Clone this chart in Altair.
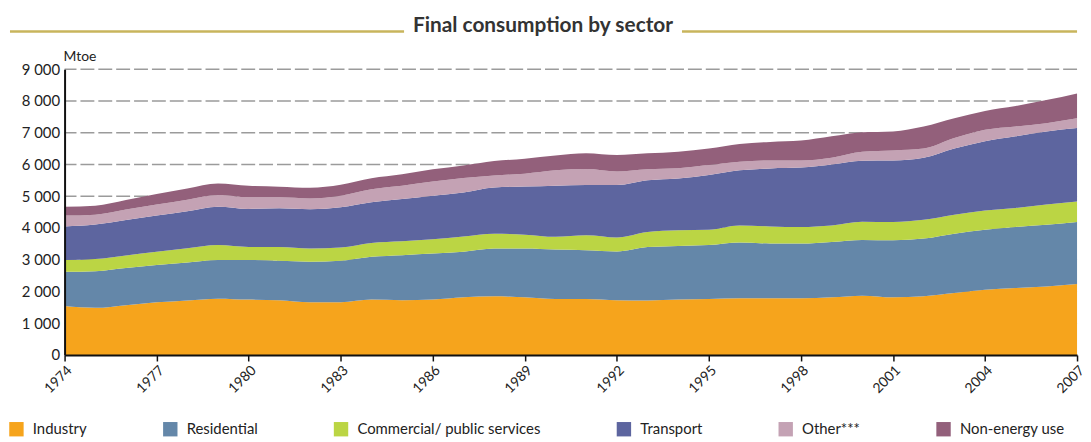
import altair as alt
import pandas as pd

years = list(range(1974, 2008))
sectors = ["Industry", "Residential", "Commercial/ public services",
           "Transport", "Other***", "Non-energy use"]
colors = ["#F6A41C", "#6487A9", "#BBD544", "#5D659F", "#C4A2B4", "#93607B"]

industry = [1540, 1485, 1570, 1660, 1720, 1775, 1745, 1725, 1660, 1660,
            1745, 1725, 1745, 1815, 1850, 1815, 1765, 1765, 1725, 1715,
            1745, 1765, 1785, 1785, 1785, 1815, 1870, 1815, 1850, 1950,
            2055, 2110, 2160, 2235]
residential = [1080, 1155, 1170, 1175, 1195, 1215, 1245, 1245, 1280, 1310,
               1350, 1420, 1450, 1435, 1500, 1535, 1555, 1535, 1535, 1685,
               1690, 1695, 1755, 1725, 1725, 1745, 1755, 1800, 1815, 1870,
               1890, 1920, 1940, 1950]
commercial = [370, 380, 395, 415, 445, 470, 410, 430, 410, 415,
              435, 435, 450, 485, 470, 440, 400, 470, 440, 475,
              490, 485, 540, 540, 520, 520, 570, 570, 590, 600,
              605, 600, 635, 645]
transport = [1060, 1090, 1115, 1140, 1170, 1210, 1200, 1220, 1240, 1265,
             1280, 1330, 1370, 1385, 1455, 1515, 1610, 1580, 1650, 1625,
             1635, 1725, 1735, 1825, 1870, 1920, 1925, 1940, 1955, 2080,
             2180, 2255, 2305, 2315]
other = [340, 310, 330, 345, 360, 365, 365, 345, 340, 365,
         410, 420, 445, 450, 380, 405, 485, 505, 430, 350,
         320, 310, 270, 250, 225, 210, 280, 315, 290, 330,
         360, 310, 260, 310]
nonenergy = [280, 280, 300, 335, 355, 365, 365, 335, 335, 345,
             345, 360, 385, 395, 450, 470, 465, 500, 520, 500,
             520, 520, 560, 585, 625, 675, 615, 600, 695, 625,
             595, 645, 725, 780]

y_ticks = [0, 1000, 2000, 3000, 4000, 5000, 6000, 7000, 8000, 9000]
x_ticks = list(range(1974, 2008, 3))
grid_values = y_ticks[1:]

series = [industry, residential, commercial, transport, other, nonenergy]
rows = []
for idx, (name, vals) in enumerate(zip(sectors, series)):
    for yr, v in zip(years, vals):
        rows.append({"year": yr, "sector": name, "value": v, "idx": idx})
df = pd.DataFrame(rows)

FONT = "Lato, Open Sans, sans-serif"

x_scale = alt.Scale(domain=[1974, 2007], nice=False, zero=False)
y_scale = alt.Scale(domain=[0, 9000], nice=False)

y_axis = alt.Axis(values=y_ticks,
                  labelExpr="replace(format(datum.value, ','), ',', ' ')",
                  labelFontSize=15, labelFont=FONT, labelColor="#222",
                  ticks=False, labelPadding=5,
                  domainColor="#111", domainWidth=2,
                  grid=False, zindex=1)

grid = alt.Chart(pd.DataFrame({"v": grid_values})).mark_rule(
    color="#9b9b9b", strokeWidth=1.5, strokeDash=[14, 4]
).encode(y=alt.Y("v:Q", scale=y_scale, axis=y_axis, title=None))

area = alt.Chart(df).mark_area(interpolate="monotone").encode(
    x=alt.X("year:Q", scale=x_scale, title=None,
            axis=alt.Axis(values=x_ticks, format="d", labelAngle=-45,
                          labelAlign="right", labelBaseline="top",
                          labelFontSize=14, labelFont=FONT, labelColor="#222",
                          tickSize=6, tickColor="#111", tickWidth=1.5,
                          domainColor="#111", domainWidth=2,
                          labelPadding=2, grid=False, zindex=1)),
    y=alt.Y("value:Q", stack="zero", scale=y_scale, title=None, axis=y_axis),
    color=alt.Color("sector:N", scale=alt.Scale(domain=sectors, range=colors),
                    legend=alt.Legend(orient="none", legendX=-56, legendY=355,
                                      direction="horizontal", title=None,
                                      symbolType="square", symbolSize=210,
                                      symbolStrokeWidth=0, symbolOpacity=1,
                                      labelFontSize=15, labelFont=FONT,
                                      labelColor="#222", labelOffset=9,
                                      columnPadding=76, labelLimit=400)),
    order=alt.Order("idx:Q", sort="ascending"),
)

mtoe = alt.Chart(pd.DataFrame({"t": ["Mtoe"]})).mark_text(
    align="left", baseline="alphabetic", fontSize=14, font=FONT, color="#222"
).encode(text="t:N", x=alt.value(-1), y=alt.value(-8))

title = alt.Chart(pd.DataFrame({"t": ["Final consumption by sector"]})).mark_text(
    align="center", baseline="alphabetic", fontSize=21, font=FONT,
    fontWeight="bold", color="#333"
).encode(text="t:N", x=alt.value(482), y=alt.value(-37))

line_left = alt.Chart(pd.DataFrame({"a": [0]})).mark_rule(
    color="#C8B55C", strokeWidth=2.5
).encode(x=alt.value(-55), x2=alt.value(342), y=alt.value(-38))

line_right = alt.Chart(pd.DataFrame({"a": [0]})).mark_rule(
    color="#C8B55C", strokeWidth=2.5
).encode(x=alt.value(622), x2=alt.value(1020), y=alt.value(-38))

chart = alt.layer(grid, area, mtoe, title, line_left, line_right).properties(
    width=1020, height=288,
    autosize=alt.AutoSizeParams(type="none"),
    padding={"left": 57, "top": 60, "right": 6, "bottom": 84},
    background="white",
).resolve_scale(y="shared").configure_view(stroke=None)

chart.save("out.html", embed_options={"renderer": "svg", "actions": False})
